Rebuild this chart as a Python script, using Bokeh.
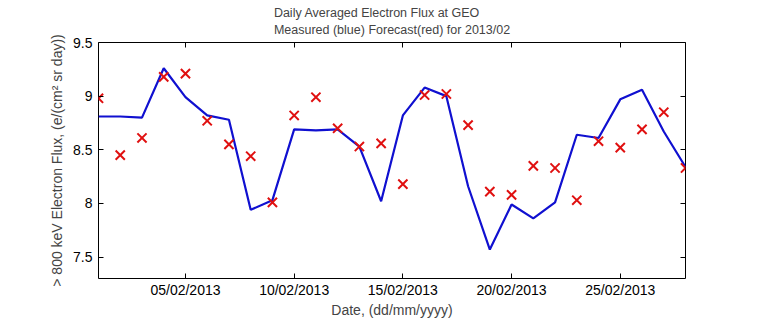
from bokeh.plotting import figure
from bokeh.models import Range1d, FixedTicker, LinearAxis, ColumnDataSource, CustomLabelingPolicy
from bokeh.embed import file_html
from bokeh.resources import INLINE

days = list(range(1, 29))
measured = [8.81, 8.81, 8.80, 9.26, 8.99, 8.82, 8.78, 7.94, 8.03, 8.69,
            8.68, 8.69, 8.53, 8.02, 8.82, 9.08, 9.00, 8.16, 7.57, 7.99,
            7.86, 8.01, 8.64, 8.61, 8.97, 9.06, 8.67, 8.34]
forecast = [8.98, 8.45, 8.61, 9.18, 9.21, 8.77, 8.55, 8.44, 8.01, 8.82,
            8.99, 8.70, 8.53, 8.56, 8.18, 9.01, 9.02, 8.73, 8.11, 8.08,
            8.35, 8.33, 8.03, 8.58, 8.52, 8.69, 8.85, 8.33]
x_ticks = [5, 10, 15, 20, 25]
x_tick_labels = ["05/02/2013", "10/02/2013", "15/02/2013", "20/02/2013", "25/02/2013"]
y_ticks = [7.5, 8, 8.5, 9, 9.5]
y_tick_labels = ["7.5", "8", "8.5", "9", "9.5"]

FONT = "Liberation Sans"

p = figure(width=757, height=324, output_backend="svg", toolbar_location=None,
           x_range=Range1d(1, 28), y_range=Range1d(7.3, 9.5),
           min_border_left=98, min_border_right=72, min_border_top=42, min_border_bottom=46,
           title="Daily Averaged Electron Flux at GEO\nMeasured (blue) Forecast(red) for 2013/02")
p.title.align = "center"
p.title.text_font = FONT
p.title.text_font_size = "12.5px"
p.title.text_font_style = "normal"
p.title.text_line_height = 1.2
p.title.offset = 0
p.title.standoff = 3
p.outline_line_color = "black"
p.outline_line_width = 1
p.xgrid.visible = False
p.ygrid.visible = False
p.background_fill_color = "white"
p.border_fill_color = "white"

src = ColumnDataSource(dict(day=days, measured=measured, forecast=forecast))
p.line("day", "measured", source=src, line_color="#1010d0", line_width=2.2)
p.scatter("day", "forecast", source=src, marker="x", size=13, line_color="#e01010", line_width=2)

hide_all = CustomLabelingPolicy(code="""
const ids = [...indices];
for (const i of ids) indices.unset(i);
return indices;
""")

def style_axis(ax, labels=True):
    ax.major_tick_in = 5
    ax.major_tick_out = 0
    ax.minor_tick_in = 0
    ax.minor_tick_out = 0
    ax.axis_line_color = None
    ax.major_tick_line_color = "black"
    ax.major_label_text_font = FONT
    ax.major_label_text_font_size = "14px"
    ax.major_label_text_color = "black"
    ax.axis_label_text_font = FONT
    ax.axis_label_text_font_size = "14px"
    ax.axis_label_text_font_style = "normal"
    if not labels:
        ax.major_label_policy = hide_all
        ax.major_label_text_font_size = "1px"
        ax.major_label_standoff = 0

xa = p.xaxis[0]
xa.ticker = FixedTicker(ticks=x_ticks)
xa.major_label_overrides = {t: l for t, l in zip(x_ticks, x_tick_labels)}
xa.axis_label = "Date, (dd/mm/yyyy)"
style_axis(xa)
xa.major_label_standoff = 3
xa.axis_label_standoff = 1

ya = p.yaxis[0]
ya.ticker = FixedTicker(ticks=y_ticks)
ya.major_label_overrides = {t: l for t, l in zip(y_ticks, y_tick_labels)}
ya.axis_label = "> 800 keV Electron Flux, (e/(cm\u00b2 sr day))"
style_axis(ya)
ya.major_label_standoff = 6
ya.axis_label_standoff = 5

xt = LinearAxis(ticker=FixedTicker(ticks=x_ticks))
style_axis(xt, labels=False)
p.add_layout(xt, "above")
yr = LinearAxis(ticker=FixedTicker(ticks=y_ticks))
style_axis(yr, labels=False)
p.add_layout(yr, "right")

open("out.html", "w").write(file_html(p, INLINE))
